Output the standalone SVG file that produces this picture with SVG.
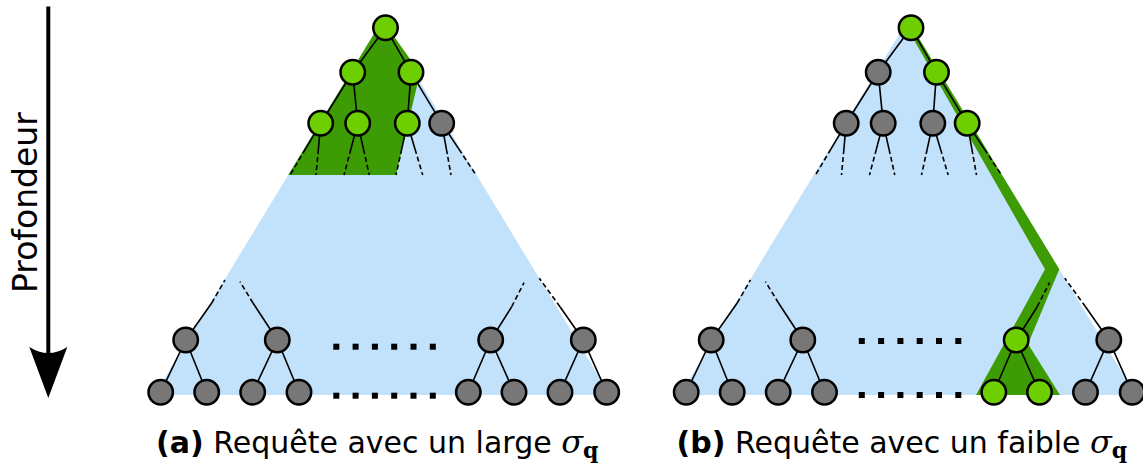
<svg xmlns="http://www.w3.org/2000/svg" width="1143" height="469" viewBox="0 0 1143 469">
<style>
.blue{fill:#c2e1fb}
.dg{fill:#3d9b04}
.e{stroke:#000;stroke-width:1.6;fill:none}
.d{stroke:#000;stroke-width:1.6;fill:none;stroke-dasharray:5 3}
.n use{stroke:#000;stroke-width:2.5}
.g{fill:#6dcf00}
.k{fill:#777777}
.dot{fill:#000}
.cap{font-family:"DejaVu Sans",sans-serif;font-size:30px;fill:#000}
.lab{font-family:"DejaVu Sans",sans-serif;font-size:33px;fill:#000}
.sig{font-family:"DejaVu Serif","Liberation Serif",serif;font-style:italic;font-size:32px}
.sub{font-family:"DejaVu Serif","Liberation Serif",serif;font-weight:bold;font-size:22px}
</style>
<defs>
<circle id="c" r="12.2"/>
</defs>
<g id="axis">
<line x1="48.3" y1="6.5" x2="48.3" y2="360" stroke="#000" stroke-width="4"/>
<path d="M29.3,347 Q48.3,359 67.3,347 L48.3,398 Z" fill="#000"/>
<text class="lab" transform="translate(36.5,293) rotate(-90)">Profondeur</text>
</g>
<g id="panelA">
<polygon class="blue" points="382.35,20 610.2,395 154.5,395"/>
<polygon class="dg" points="382.35,20 420,73 396,175 288.2,175"/>
<g id="connectorsA">
<path class="e" d="M385.5,27.7L352.7,72.3M385.5,27.7L411,72.3M352.7,72.3L320.7,123.3M352.7,72.3L357.7,123.3M411,72.3L407.3,123.3M411,72.3L441.7,123.3"/>
<path class="e" d="M320.7,123.3L305.4,149.1M320.7,123.3L318.4,149.1M357.7,123.3L350.9,149.1M357.7,123.3L363.5,149.1M407.3,123.3L401.7,149.1M407.3,123.3L415,149.1M441.7,123.3L446.4,149.1M441.7,123.3L458.9,149.1"/>
<path class="d" d="M305.4,149.1L290,175M318.4,149.1L316,175M350.9,149.1L344,175M363.5,149.1L369.3,175M401.7,149.1L396,175M415,149.1L422.7,175M446.4,149.1L451,175M458.9,149.1L476,175"/>
<path class="e" d="M185.7,340L211.7,303M277.3,340L253,303M490.7,340L511.7,306.7M583.3,340L560,306.7"/>
<path class="d" d="M211.7,303L225,280M253,303L240,281.7M511.7,306.7L524,282.7M560,306.7L539.3,278.3"/>
<path class="e" d="M185.7,340L160.7,392.3M185.7,340L206.7,392.3M277.3,340L252.7,392.3M277.3,340L299,392.3M490.7,340L468.3,392.3M490.7,340L514,392.3M583.3,340L560,392.3M583.3,340L606.7,392.3"/>
</g>
<g class="n">
<g id="a_root"><use href="#c" x="385.5" y="27.7" class="g"/></g>
<g id="a_l2_1"><use href="#c" x="352.7" y="72.3" class="g"/></g>
<g id="a_l2_2"><use href="#c" x="411" y="72.3" class="g"/></g>
<g id="a_l3_1"><use href="#c" x="320.7" y="123.3" class="g"/></g>
<g id="a_l3_2"><use href="#c" x="357.7" y="123.3" class="g"/></g>
<g id="a_l3_3"><use href="#c" x="407.3" y="123.3" class="g"/></g>
<g id="a_l3_4"><use href="#c" x="441.7" y="123.3" class="k"/></g>
<g id="a_p1"><use href="#c" x="185.7" y="340" class="k"/></g>
<g id="a_p2"><use href="#c" x="277.3" y="340" class="k"/></g>
<g id="a_p3"><use href="#c" x="490.7" y="340" class="k"/></g>
<g id="a_p4"><use href="#c" x="583.3" y="340" class="k"/></g>
<g id="a_f1"><use href="#c" x="160.7" y="392.3" class="k"/></g>
<g id="a_f2"><use href="#c" x="206.7" y="392.3" class="k"/></g>
<g id="a_f3"><use href="#c" x="252.7" y="392.3" class="k"/></g>
<g id="a_f4"><use href="#c" x="299" y="392.3" class="k"/></g>
<g id="a_f5"><use href="#c" x="468.3" y="392.3" class="k"/></g>
<g id="a_f6"><use href="#c" x="514" y="392.3" class="k"/></g>
<g id="a_f7"><use href="#c" x="560" y="392.3" class="k"/></g>
<g id="a_f8"><use href="#c" x="606.7" y="392.3" class="k"/></g>
</g>
<g id="a_dots" class="dot">
<rect x="333.3" y="343.7" width="6" height="6"/><rect x="352.6" y="343.7" width="6" height="6"/><rect x="371.9" y="343.7" width="6" height="6"/><rect x="391.2" y="343.7" width="6" height="6"/><rect x="410.5" y="343.7" width="6" height="6"/><rect x="429.8" y="343.7" width="6" height="6"/>
<rect x="333.3" y="392.7" width="6" height="6"/><rect x="352.6" y="392.7" width="6" height="6"/><rect x="371.9" y="392.7" width="6" height="6"/><rect x="391.2" y="392.7" width="6" height="6"/><rect x="410.5" y="392.7" width="6" height="6"/><rect x="429.8" y="392.7" width="6" height="6"/>
</g>
<text class="cap" x="156" y="453"><tspan font-weight="bold">(a)</tspan> Requête avec un large <tspan class="sig">σ</tspan><tspan class="sub" dy="5">q</tspan></text>
</g>
<g id="panelB">
<polygon class="blue" points="907.85,20 1135.7,395 680,395"/>
<polygon class="dg" points="907.85,20 1059.3,269.3 1028,344 1060,395 976,395 1045,269.3 906,26"/>
<g id="connectorsB" transform="translate(525.5,0)">
<path class="e" d="M385.5,27.7L352.7,72.3M385.5,27.7L411,72.3M352.7,72.3L320.7,123.3M352.7,72.3L357.7,123.3M411,72.3L407.3,123.3M411,72.3L441.7,123.3"/>
<path class="e" d="M320.7,123.3L305.4,149.1M320.7,123.3L318.4,149.1M357.7,123.3L350.9,149.1M357.7,123.3L363.5,149.1M407.3,123.3L401.7,149.1M407.3,123.3L415,149.1M441.7,123.3L446.4,149.1M441.7,123.3L458.9,149.1"/>
<path class="d" d="M305.4,149.1L290,175M318.4,149.1L316,175M350.9,149.1L344,175M363.5,149.1L369.3,175M401.7,149.1L396,175M415,149.1L422.7,175M446.4,149.1L451,175M458.9,149.1L476,175"/>
<path class="e" d="M185.7,340L211.7,303M277.3,340L253,303M490.7,340L511.7,306.7M583.3,340L560,306.7"/>
<path class="d" d="M211.7,303L225,280M253,303L240,281.7M511.7,306.7L524,282.7M560,306.7L539.3,278.3"/>
<path class="e" d="M185.7,340L160.7,392.3M185.7,340L206.7,392.3M277.3,340L252.7,392.3M277.3,340L299,392.3M490.7,340L468.3,392.3M490.7,340L514,392.3M583.3,340L560,392.3M583.3,340L606.7,392.3"/>
</g>
<g class="n" transform="translate(525.5,0)">
<g id="b_root"><use href="#c" x="385.5" y="27.7" class="g"/></g>
<g id="b_l2_1"><use href="#c" x="352.7" y="72.3" class="k"/></g>
<g id="b_l2_2"><use href="#c" x="411" y="72.3" class="g"/></g>
<g id="b_l3_1"><use href="#c" x="320.7" y="123.3" class="k"/></g>
<g id="b_l3_2"><use href="#c" x="357.7" y="123.3" class="k"/></g>
<g id="b_l3_3"><use href="#c" x="407.3" y="123.3" class="k"/></g>
<g id="b_l3_4"><use href="#c" x="441.7" y="123.3" class="g"/></g>
<g id="b_p1"><use href="#c" x="185.7" y="340" class="k"/></g>
<g id="b_p2"><use href="#c" x="277.3" y="340" class="k"/></g>
<g id="b_p3"><use href="#c" x="490.7" y="340" class="g"/></g>
<g id="b_p4"><use href="#c" x="583.3" y="340" class="k"/></g>
<g id="b_f1"><use href="#c" x="160.7" y="392.3" class="k"/></g>
<g id="b_f2"><use href="#c" x="206.7" y="392.3" class="k"/></g>
<g id="b_f3"><use href="#c" x="252.7" y="392.3" class="k"/></g>
<g id="b_f4"><use href="#c" x="299" y="392.3" class="k"/></g>
<g id="b_f5"><use href="#c" x="468.3" y="392.3" class="g"/></g>
<g id="b_f6"><use href="#c" x="514" y="392.3" class="g"/></g>
<g id="b_f7"><use href="#c" x="560" y="392.3" class="k"/></g>
<g id="b_f8"><use href="#c" x="606.7" y="392.3" class="k"/></g>
</g>
<g id="b_dots" class="dot" transform="translate(525.5,0)">
<rect x="333.3" y="338" width="6" height="6"/><rect x="352.6" y="338" width="6" height="6"/><rect x="371.9" y="338" width="6" height="6"/><rect x="391.2" y="338" width="6" height="6"/><rect x="410.5" y="338" width="6" height="6"/><rect x="429.8" y="338" width="6" height="6"/>
<rect x="333.3" y="392" width="6" height="6"/><rect x="352.6" y="392" width="6" height="6"/><rect x="371.9" y="392" width="6" height="6"/><rect x="391.2" y="392" width="6" height="6"/><rect x="410.5" y="392" width="6" height="6"/><rect x="429.8" y="392" width="6" height="6"/>
</g>
<text class="cap" x="676.5" y="453"><tspan font-weight="bold">(b)</tspan> Requête avec un faible <tspan class="sig">σ</tspan><tspan class="sub" dy="5">q</tspan></text>
</g>
</svg>
